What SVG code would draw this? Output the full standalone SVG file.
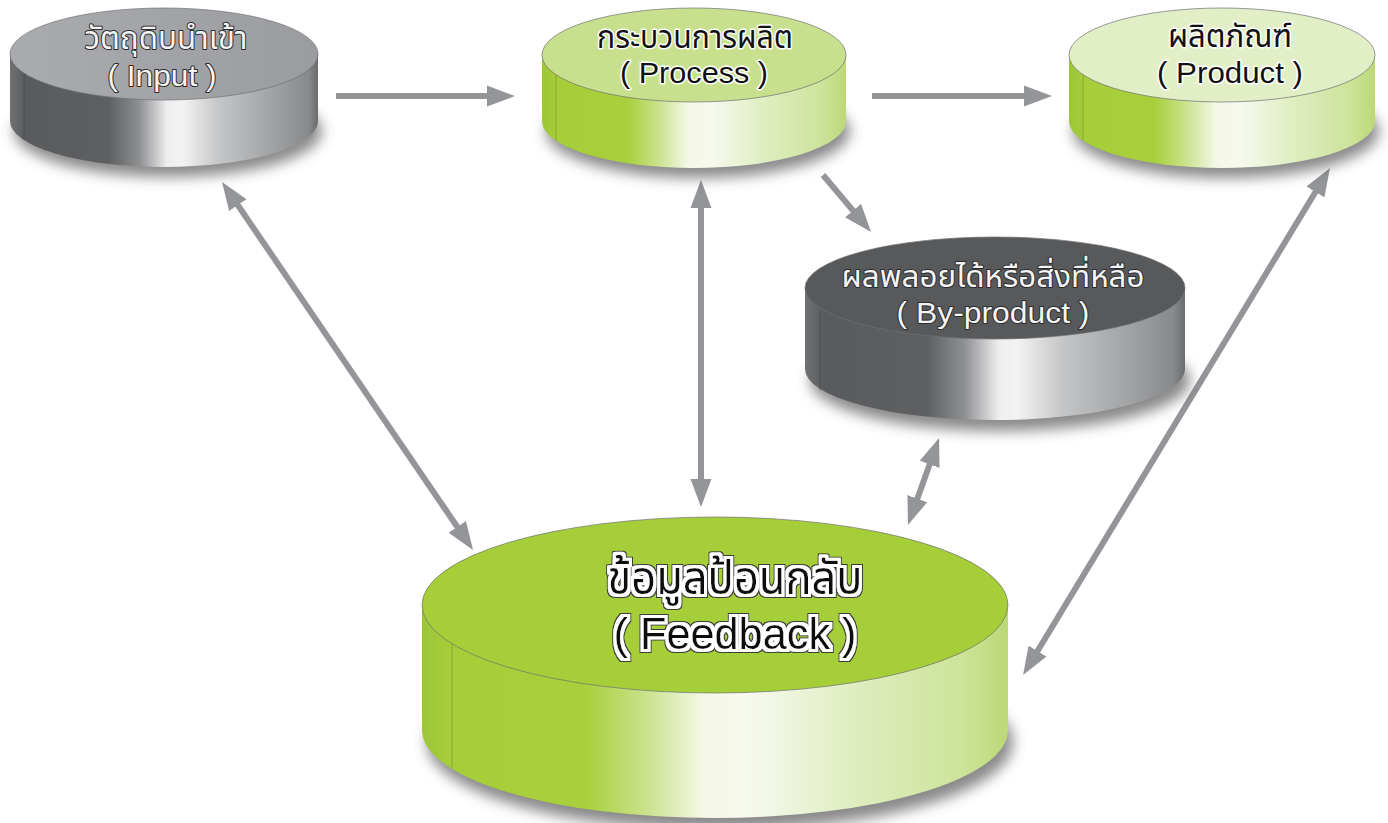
<svg xmlns="http://www.w3.org/2000/svg" width="1388" height="823" viewBox="0 0 1388 823">
<defs>
<style>
.th{font-family:"Liberation Sans","Noto Sans Thai","Noto Sans",sans-serif;text-anchor:middle}
.dark{fill:#111;stroke:#fff;stroke-width:3;paint-order:stroke;stroke-linejoin:round}
.light{fill:#f4f4f4;stroke:#2c2c2e;stroke-width:2;paint-order:stroke;stroke-linejoin:round}
.fb{fill:#0a0a0a}
.conn{stroke:#939598;stroke-width:6;fill:none}
.shadow{fill:#3a3a3c;opacity:.6;filter:url(#blur)}
.rim{fill:none;stroke:#6f7072;stroke-width:1;stroke-opacity:.7}
.seam{stroke:#000;stroke-opacity:.18;stroke-width:1}
</style>
<filter id="blur" x="-20%" y="-50%" width="140%" height="200%"><feGaussianBlur stdDeviation="7"/></filter>
<filter id="halo" x="-10%" y="-30%" width="120%" height="160%">
<feMorphology in="SourceAlpha" operator="dilate" radius="2.8" result="d1"/>
<feMorphology in="SourceAlpha" operator="dilate" radius="4" result="d2"/>
<feFlood flood-color="#ffffff" result="w"/>
<feComposite in="w" in2="d1" operator="in" result="wh"/>
<feFlood flood-color="#3a3a3a" result="k"/>
<feComposite in="k" in2="d2" operator="in" result="kh"/>
<feMerge><feMergeNode in="kh"/><feMergeNode in="wh"/><feMergeNode in="SourceGraphic"/></feMerge>
</filter>
<linearGradient id="graySide" x1="0" y1="0" x2="1" y2="0">
<stop offset="0" stop-color="#707173"/>
<stop offset="0.05" stop-color="#5a5b5d"/>
<stop offset="0.32" stop-color="#5e5f61"/>
<stop offset="0.42" stop-color="#8f9092"/>
<stop offset="0.51" stop-color="#eeeeef"/>
<stop offset="0.56" stop-color="#f3f3f3"/>
<stop offset="0.68" stop-color="#c4c5c6"/>
<stop offset="0.88" stop-color="#9c9d9f"/>
<stop offset="0.97" stop-color="#88898b"/>
<stop offset="1" stop-color="#6a6b6d"/>
</linearGradient>
<linearGradient id="greenSide" x1="0" y1="0" x2="1" y2="0">
<stop offset="0" stop-color="#9cc53a"/>
<stop offset="0.05" stop-color="#a6ce39"/>
<stop offset="0.28" stop-color="#a9d03c"/>
<stop offset="0.38" stop-color="#c9e18a"/>
<stop offset="0.48" stop-color="#f4f8e6"/>
<stop offset="0.56" stop-color="#f6f9ee"/>
<stop offset="0.72" stop-color="#e1eec3"/>
<stop offset="0.92" stop-color="#cde39a"/>
<stop offset="1" stop-color="#bcd877"/>
</linearGradient>
<linearGradient id="inputTop" x1="0" y1="0" x2="1" y2="0">
<stop offset="0" stop-color="#a9abae"/>
<stop offset="1" stop-color="#9a9c9f"/>
</linearGradient>
<marker id="ah" viewBox="0 -11 28 22" refX="2" refY="0" markerWidth="28" markerHeight="22" markerUnits="userSpaceOnUse" orient="auto-start-reverse">
<path d="M0,-10.5 L28,0 L0,10.5 Z" fill="#939598"/>
</marker>
</defs>
<rect width="1388" height="823" fill="#ffffff"/>

<g id="connectors">
<line class="conn" x1="336" y1="96" x2="489" y2="96" marker-end="url(#ah)"/>
<line class="conn" x1="872" y1="96" x2="1026" y2="96" marker-end="url(#ah)"/>
<line class="conn" x1="823" y1="175" x2="854.3" y2="212.1" marker-end="url(#ah)"/>
<line class="conn" x1="236.7" y1="203.5" x2="458.4" y2="528.5" marker-start="url(#ah)" marker-end="url(#ah)"/>
<line class="conn" x1="701" y1="206" x2="701" y2="481" marker-start="url(#ah)" marker-end="url(#ah)"/>
<line class="conn" x1="930.3" y1="462.5" x2="916.7" y2="500.5" marker-start="url(#ah)" marker-end="url(#ah)"/>
<line class="conn" x1="1316.5" y1="190.2" x2="1036.5" y2="652.8" marker-start="url(#ah)" marker-end="url(#ah)"/>
</g>

<g id="node-input">
<ellipse class="shadow" cx="168" cy="131" rx="154" ry="46"/>
<path d="M10,54 L10,121 A154,46 0 0 0 318,121 L318,54 Z" fill="url(#graySide)"/>
<line class="seam" x1="24" y1="73" x2="24" y2="140"/>
<ellipse cx="164" cy="54" rx="154" ry="46" fill="url(#inputTop)"/>
<ellipse class="rim" cx="164" cy="54" rx="154" ry="46"/>
<text class="th light" x="166" y="49" font-size="32" textLength="163" lengthAdjust="spacingAndGlyphs">วัตถุดิบนำเข้า</text>
<text class="th light" x="162" y="86" font-size="30" textLength="109" lengthAdjust="spacingAndGlyphs">( Input )</text>
</g>

<g id="node-process">
<ellipse class="shadow" cx="698" cy="131" rx="152" ry="47"/>
<path d="M542,55 L542,121 A152,47 0 0 0 846,121 L846,55 Z" fill="url(#greenSide)"/>
<line class="seam" x1="556" y1="75" x2="556" y2="141"/>
<ellipse cx="694" cy="55" rx="152" ry="47" fill="#c8e08e"/>
<ellipse class="rim" cx="694" cy="55" rx="152" ry="47"/>
<text class="th dark" x="695" y="48" font-size="32" textLength="196" lengthAdjust="spacingAndGlyphs">กระบวนการผลิต</text>
<text class="th dark" x="694" y="83" font-size="30" textLength="148" lengthAdjust="spacingAndGlyphs">( Process )</text>
</g>

<g id="node-product">
<ellipse class="shadow" cx="1226" cy="131" rx="153" ry="47"/>
<path d="M1069,55 L1069,121 A153,47 0 0 0 1375,121 L1375,55 Z" fill="url(#greenSide)"/>
<line class="seam" x1="1083" y1="75" x2="1083" y2="141"/>
<ellipse cx="1222" cy="55" rx="153" ry="47" fill="#e2efc6"/>
<ellipse class="rim" cx="1222" cy="55" rx="153" ry="47"/>
<text class="th dark" x="1230" y="47" font-size="32" textLength="124" lengthAdjust="spacingAndGlyphs">ผลิตภัณฑ์</text>
<text class="th dark" x="1230" y="83" font-size="30" textLength="146" lengthAdjust="spacingAndGlyphs">( Product )</text>
</g>

<g id="node-byproduct">
<ellipse class="shadow" cx="1000" cy="380" rx="190" ry="51"/>
<path d="M805,288 L805,369 A190,51 0 0 0 1185,369 L1185,288 Z" fill="url(#graySide)"/>
<line class="seam" x1="820" y1="310" x2="820" y2="391"/>
<ellipse cx="995" cy="288" rx="190" ry="51" fill="#58595b"/>
<ellipse class="rim" cx="995" cy="288" rx="190" ry="51"/>
<text class="th light" x="993" y="287" font-size="31" textLength="303" lengthAdjust="spacingAndGlyphs">ผลพลอยได้หรือสิ่งที่หลือ</text>
<text class="th light" x="993" y="323" font-size="29" textLength="193" lengthAdjust="spacingAndGlyphs">( By-product )</text>
</g>

<g id="node-feedback">
<ellipse class="shadow" cx="720" cy="742" rx="293" ry="88"/>
<path d="M422,605 L422,730 A293,88 0 0 0 1008,730 L1008,605 Z" fill="url(#greenSide)"/>
<line class="seam" x1="452" y1="643" x2="452" y2="768"/>
<ellipse cx="715" cy="605" rx="293" ry="88" fill="#a6ce39"/>
<ellipse class="rim" cx="715" cy="605" rx="293" ry="88"/>
<g filter="url(#halo)">
<text class="th fb" x="735" y="594" font-size="46" textLength="255" lengthAdjust="spacingAndGlyphs">ข้อมูลป้อนกลับ</text>
<text class="th fb" x="735" y="649" font-size="45" textLength="243" lengthAdjust="spacingAndGlyphs">( Feedback )</text>
</g>
</g>
</svg>
